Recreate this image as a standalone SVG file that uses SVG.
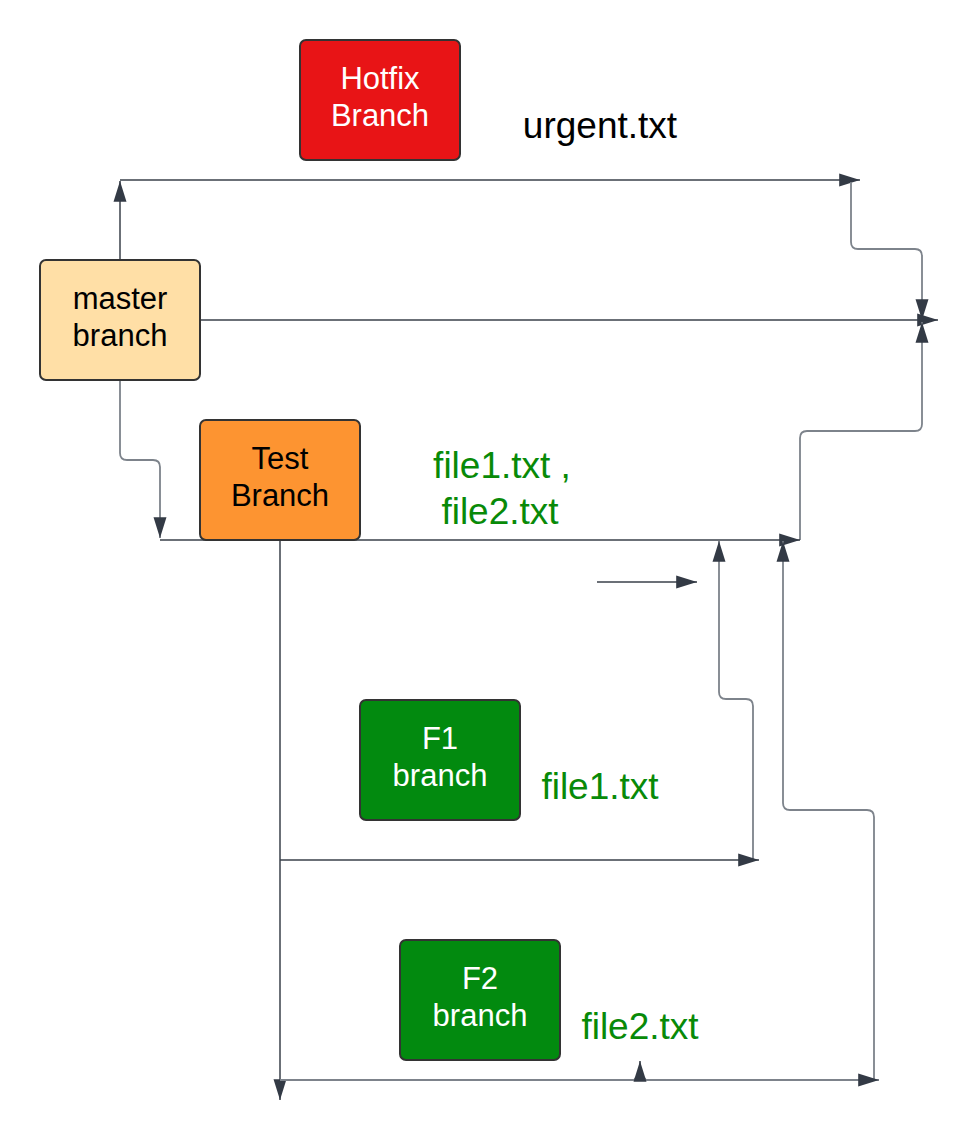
<svg xmlns="http://www.w3.org/2000/svg" width="978" height="1138" viewBox="0 0 978 1138">
<style>
.box{stroke:#333333;stroke-width:2}
.wt{font-family:"Liberation Sans",Arial,sans-serif;font-size:31px;fill:#ffffff;text-anchor:middle}
.bt{font-family:"Liberation Sans",Arial,sans-serif;font-size:31px;fill:#000000;text-anchor:middle}
.lbl{font-family:"Liberation Sans",Arial,sans-serif;font-size:37px;text-anchor:middle}
.c{fill:none;stroke:#3a414a;stroke-width:1.5}
.g{fill:none;stroke:#7d838b;stroke-width:1.8}
</style>
<defs>
<marker id="ag" viewBox="0 0 10 10" refX="10" refY="5" markerWidth="13" markerHeight="13" markerUnits="userSpaceOnUse" orient="auto" overflow="visible"><path d="M-6,0 L10,5 L-6,10 z" fill="#333a45"/></marker>
</defs>
<rect width="978" height="1138" fill="#ffffff"/>
<g id="connectors">
<path class="c" d="M120,260 V181" marker-end="url(#ag)"/>
<path class="c" d="M120,180 H860" marker-end="url(#ag)"/>
<path class="g" d="M851,182 V242 Q851,249 858,249 H915 Q922,249 922,256 V320" marker-end="url(#ag)"/>
<path class="c" d="M200,320 H938" marker-end="url(#ag)"/>
<path class="g" d="M800,540 V438 Q800,431 807,431 H915 Q922,431 922,424 V322" marker-end="url(#ag)"/>
<path class="g" d="M120,380 V453 Q120,460 127,460 H153 Q160,460 160,467 V538" marker-end="url(#ag)"/>
<path class="c" d="M160,540 H800" marker-end="url(#ag)"/>
<path class="c" d="M280,540 V1100" marker-end="url(#ag)"/>
<path class="c" d="M597,582 H697" marker-end="url(#ag)"/>
<path class="g" d="M753,860 V706 Q753,699 746,699 H726 Q719,699 719,692 V541" marker-end="url(#ag)"/>
<path class="c" d="M280,860 H759" marker-end="url(#ag)"/>
<path class="g" d="M874,1080 V817 Q874,810 867,810 H790 Q783,810 783,803 V541" marker-end="url(#ag)"/>
<path class="g" d="M280,1080 H634 Q640,1072 646,1080 H879" marker-end="url(#ag)"/>
<path class="c" d="M640,1076 V1061" marker-end="url(#ag)"/>
</g>
<g id="hotfix">
<rect class="box" x="300" y="40" width="160" height="120" rx="6" fill="#e81416"/>
<text class="wt" x="380" y="89">Hotfix</text>
<text class="wt" x="380" y="126">Branch</text>
</g>
<g id="urgent"><text class="lbl" x="600" y="138" fill="#000000">urgent.txt</text></g>
<g id="master">
<rect class="box" x="40" y="260" width="160" height="120" rx="6" fill="#ffdfa6"/>
<text class="bt" x="120" y="309">master</text>
<text class="bt" x="120" y="346">branch</text>
</g>
<g id="test">
<rect class="box" x="200" y="420" width="160" height="120" rx="6" fill="#fd9431"/>
<text class="bt" x="280" y="469">Test</text>
<text class="bt" x="280" y="506">Branch</text>
</g>
<g id="files12">
<text class="lbl" x="502" y="478" fill="#088a08">file1.txt ,</text>
<text class="lbl" x="500" y="524" fill="#088a08">file2.txt</text>
</g>
<g id="f1">
<rect class="box" x="360" y="700" width="160" height="120" rx="6" fill="#028a0f"/>
<text class="wt" x="440" y="749">F1</text>
<text class="wt" x="440" y="786">branch</text>
</g>
<g id="file1"><text class="lbl" x="600" y="799" fill="#088a08">file1.txt</text></g>
<g id="f2">
<rect class="box" x="400" y="940" width="160" height="120" rx="6" fill="#028a0f"/>
<text class="wt" x="480" y="989">F2</text>
<text class="wt" x="480" y="1026">branch</text>
</g>
<g id="file2"><text class="lbl" x="640" y="1039" fill="#088a08">file2.txt</text></g>
</svg>
